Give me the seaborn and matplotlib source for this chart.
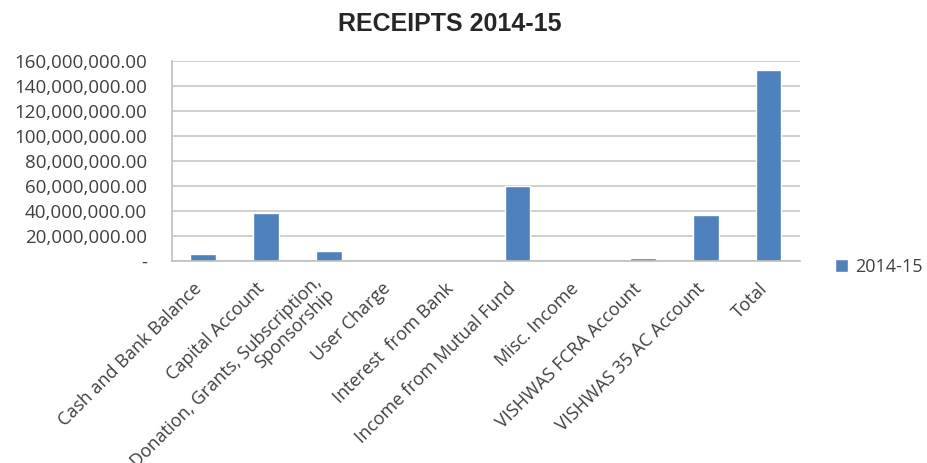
import pandas as pd
import matplotlib
matplotlib.use("Agg")
import matplotlib.pyplot as plt
import matplotlib.transforms as mtransforms
import seaborn as sns
from matplotlib.ticker import FuncFormatter, FixedLocator

# --- Data ---
categories = [
    "Cash and Bank Balance",
    "Capital Account",
    "Donation, Grants, Subscription,\nSponsorship",
    "User Charge",
    "Interest  from Bank",
    "Income from Mutual Fund",
    "Misc. Income",
    "VISHWAS FCRA Account",
    "VISHWAS 35 AC Account",
    "Total",
]
receipts_2014_15 = [5.1e6, 38.4e6, 7.8e6, 0, 0, 60.0e6, 0, 2.1e6, 36.6e6, 152.6e6]
series_name = "2014-15"
y_ticks = [0, 20e6, 40e6, 60e6, 80e6, 100e6, 120e6, 140e6, 160e6]

df = pd.DataFrame({"Category": categories, "Amount": receipts_2014_15})

sns.set_style("white")
plt.rcParams["font.family"] = ["Open Sans", "DejaVu Sans"]

fig = plt.figure(figsize=(9.27, 4.63), dpi=100)
ax = fig.add_axes([0.1855, 0.437, 0.6775, 0.432])

bar_blue = "#4F81BD"
sns.barplot(data=df, x="Category", y="Amount", color=bar_blue, width=0.41,
            label=series_name, ax=ax, saturation=1)

ax.set_ylim(0, 160e6)
ax.set_xlim(-0.5, len(categories) - 0.5)
ax.set_yticks(y_ticks)
ax.yaxis.set_major_formatter(FuncFormatter(lambda v, p: "-" if v == 0 else f"{v:,.2f}"))
ax.grid(axis="y", color="#c8c8c8", linewidth=1.2)
ax.set_axisbelow(True)

for s in ["top", "right"]:
    ax.spines[s].set_visible(False)
for s in ["left", "bottom"]:
    ax.spines[s].set_color("#bfbfbf")
    ax.spines[s].set_linewidth(1.2)

ax.tick_params(axis="y", length=6, color="#bfbfbf", labelsize=13.5, labelcolor="#404040", pad=12)
# ticks between categories like Excel
ax.xaxis.set_minor_locator(FixedLocator([i - 0.5 for i in range(len(categories) + 1)]))
ax.tick_params(axis="x", which="major", length=0, labelsize=13, labelcolor="#404040", pad=18)
ax.tick_params(axis="x", which="minor", length=6, color="#bfbfbf")
shift = mtransforms.ScaledTranslation(-4 / 100, 0, fig.dpi_scale_trans)
for lbl in ax.get_xticklabels():
    lbl.set_rotation(45)
    lbl.set_ha("right")
    lbl.set_va("center")
    lbl.set_rotation_mode("anchor")
    lbl.set_multialignment("right")
    lbl.set_linespacing(1.0)
    lbl.set_transform(lbl.get_transform() + shift)

ax.set_xlabel("")
ax.set_ylabel("")

fig.suptitle("RECEIPTS 2014-15", x=0.485, y=0.975, fontsize=18, fontweight="bold",
             family=["Liberation Sans", "DejaVu Sans"])

leg = ax.legend(loc="center left", bbox_to_anchor=(1.03, -0.03), frameon=False,
                handlelength=0.7, handleheight=0.7, fontsize=13, handletextpad=0.4)
for t in leg.get_texts():
    t.set_color("#404040")

fig.savefig("out.png", dpi=100)
